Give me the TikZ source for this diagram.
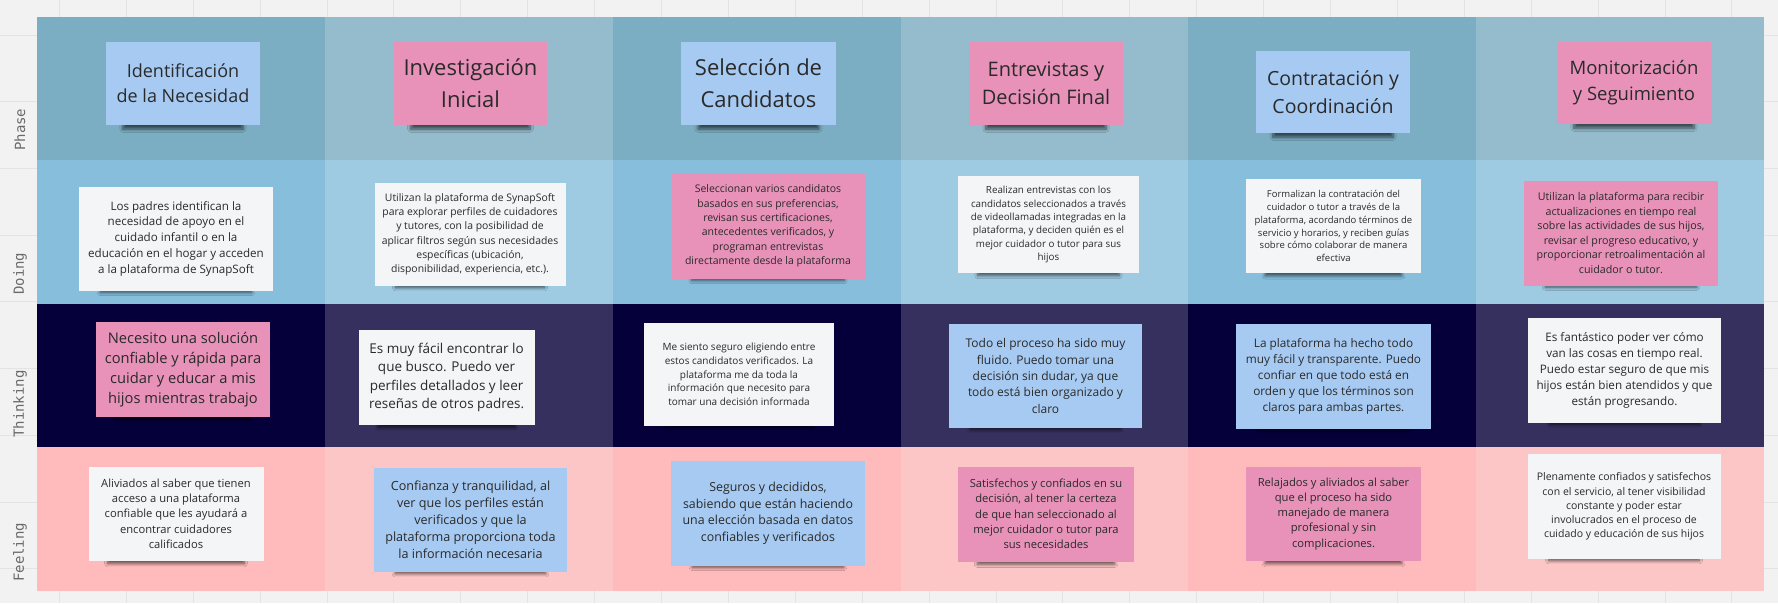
\documentclass[tikz,border=0pt]{standalone}
\usepackage{fontspec}
\setmainfont{Open Sans}
\setmonofont{DejaVu Sans Mono}
\usetikzlibrary{shadows.blur}

\definecolor{lienzo}{HTML}{F2F2F2}
\definecolor{lineagris}{HTML}{E3E3E3}
\definecolor{faseA}{HTML}{7BAEC3}
\definecolor{faseB}{HTML}{95BCCD}
\definecolor{hacerA}{HTML}{86BEDC}
\definecolor{hacerB}{HTML}{9ECAE2}
\definecolor{pensarA}{HTML}{05003A}
\definecolor{pensarB}{HTML}{35305E}
\definecolor{sentirA}{HTML}{FFBBBB}
\definecolor{sentirB}{HTML}{FDC6C6}
\definecolor{notaazul}{HTML}{A6CAF2}
\definecolor{notarosa}{HTML}{E892BA}
\definecolor{notablanca}{HTML}{F4F5F7}
\definecolor{textonota}{HTML}{2A2A2A}
\definecolor{gris}{HTML}{6A6A6A}

\newcommand{\tam}[2]{\fontsize{#1}{#2}\selectfont}

\begin{document}
\begin{tikzpicture}[x=1pt, y=-1pt]
    % Estilos
    \tikzstyle{nota}=[rectangle, inner sep=0pt, align=center, text=textonota, blur shadow={shadow xshift=0pt, shadow yshift=-17pt, shadow scale=0.78, shadow opacity=60, shadow blur radius=4pt, shadow blur steps=8}]
    \tikzstyle{azul}=[nota, fill=notaazul]
    \tikzstyle{rosa}=[nota, fill=notarosa]
    \tikzstyle{blanca}=[nota, fill=notablanca]
    \tikzstyle{etiqueta}=[rotate=90, anchor=west, inner sep=0pt, text=gris, font=\ttfamily\tam{14}{16}]
    \tikzstyle{rejilla}=[draw=lineagris, line width=0.8pt]

    % Fondo
    \fill[lienzo] (0,0) rectangle (1778,603);
    \useasboundingbox (0,0) rectangle (1778,603);
    \foreach \i in {0,...,25} \draw[rejilla] ({59.3+66.9*\i},0) -- ++(0,603);
    \foreach \j in {0,...,8} \draw[rejilla] (0,{35+66.7*\j}) -- ++(1778,0);

    % Carriles
    \foreach \ya/\yb/\oscuro/\claro in {17/160/faseA/faseB, 160/304/hacerA/hacerB, 304/447/pensarA/pensarB, 447/591/sentirA/sentirB}
      \foreach \c in {0,...,5}{
        \ifodd\c \def\col{\claro}\else \def\col{\oscuro}\fi
        \fill[fill=\col] ({37+287.83*\c},\ya) rectangle ({37+287.83*(\c+1)},\yb);
      }

    % Etiquetas
    \node (fase) [etiqueta] at (20,151) {Phase};
    \node (hacer) [etiqueta] at (20,295) {Doing};
    \node (pensar) [etiqueta] at (20,438) {Thinking};
    \node (sentir) [etiqueta] at (20,582) {Feeling};

    % Fases
    \node (f1) [azul, minimum width=154, minimum height=83, font=\tam{18}{25}] at (183,83.5) {Identificación\\de la Necesidad};
    \node (f2) [rosa, minimum width=153, minimum height=83, font=\tam{22}{32}] at (470.5,83.5) {Investigación\\Inicial};
    \node (f3) [azul, minimum width=155, minimum height=83, font=\tam{22}{32}] at (758.5,83.5) {Selección de\\Candidatos};
    \node (f4) [rosa, minimum width=154, minimum height=83, font=\tam{20}{28}] at (1046,83.5) {Entrevistas y\\Decisión Final};
    \node (f5) [azul, minimum width=154, minimum height=82, font=\tam{19.5}{28}] at (1333,92) {Contratación y\\Coordinación};
    \node (f6) [rosa, minimum width=154, minimum height=82, font=\tam{18.5}{26}] at (1634,83) {Monitorización\\y Seguimiento};

    % Doing
    \node (d1) [blanca, minimum width=194, minimum height=104, font=\tam{11.6}{15.8}] at (176,238.7) {Los padres identifican la\\necesidad de apoyo en el\\cuidado infantil o en la\\educación en el hogar y acceden\\a la plataforma de SynapSoft};
    \node (d2) [blanca, minimum width=191, minimum height=103, font=\tam{10.4}{14.2}] at (470,234.3) {Utilizan la plataforma de SynapSoft\\para explorar perfiles de cuidadores\\y tutores, con la posibilidad de\\aplicar filtros según sus necesidades\\específicas (ubicación,\\disponibilidad, experiencia, etc.).};
    \node (d3) [rosa, minimum width=195, minimum height=106, font=\tam{10.5}{14.3}] at (768,226) {Seleccionan varios candidatos\\basados en sus preferencias,\\revisan sus certificaciones,\\antecedentes verificados, y\\programan entrevistas\\directamente desde la plataforma};
    \node (d4) [blanca, minimum width=181, minimum height=97, font=\tam{9.8}{13.3}] at (1048.5,224.5) {Realizan entrevistas con los\\candidatos seleccionados a través\\de videollamadas integradas en la\\plataforma, y deciden quién es el\\mejor cuidador o tutor para sus\\hijos};
    \node (d5) [blanca, minimum width=175, minimum height=94, font=\tam{9.5}{12.9}] at (1333.5,226) {Formalizan la contratación del\\cuidador o tutor a través de la\\plataforma, acordando términos de\\servicio y horarios, y reciben guías\\sobre cómo colaborar de manera\\efectiva};
    \node (d6) [rosa, minimum width=194, minimum height=105, font=\tam{10.7}{14.5}] at (1621,233) {Utilizan la plataforma para recibir\\actualizaciones en tiempo real\\sobre las actividades de sus hijos,\\revisar el progreso educativo, y\\proporcionar retroalimentación al\\cuidador o tutor.};

    % Thinking
    \node (t1) [rosa, minimum width=174, minimum height=95, font=\tam{14.7}{20}] at (183,369.5) {Necesito una solución\\confiable y rápida para\\cuidar y educar a mis\\hijos mientras trabajo};
    \node (t2) [blanca, minimum width=176, minimum height=95, font=\tam{13.5}{18.3}] at (446.6,377.5) {Es muy fácil encontrar lo\\que busco. Puedo ver\\perfiles detallados y leer\\reseñas de otros padres.};
    \node (t3) [blanca, minimum width=190, minimum height=103, font=\tam{10}{13.7}] at (739,374.5) {Me siento seguro eligiendo entre\\estos candidatos verificados. La\\plataforma me da toda la\\información que necesito para\\tomar una decisión informada};
    \node (t4) [azul, minimum width=193, minimum height=104, font=\tam{12}{16.4}] at (1045.5,376) {Todo el proceso ha sido muy\\fluido. Puedo tomar una\\decisión sin dudar, ya que\\todo está bien organizado y\\claro};
    \node (t5) [azul, minimum width=195, minimum height=105, font=\tam{11.8}{16}] at (1333.5,376.5) {La plataforma ha hecho todo\\muy fácil y transparente. Puedo\\confiar en que todo está en\\orden y que los términos son\\claros para ambas partes.};
    \node (t6) [blanca, minimum width=193, minimum height=105, font=\tam{11.7}{15.9}] at (1624.5,370.3) {Es fantástico poder ver cómo\\van las cosas en tiempo real.\\Puedo estar seguro de que mis\\hijos están bien atendidos y que\\están progresando.};

    % Feeling
    \node (s1) [blanca, minimum width=175, minimum height=94, font=\tam{11.2}{15.2}] at (176,513.7) {Aliviados al saber que tienen\\acceso a una plataforma\\confiable que les ayudará a\\encontrar cuidadores\\calificados};
    \node (s2) [azul, minimum width=193, minimum height=104, font=\tam{12.6}{17.1}] at (470.5,520) {Confianza y tranquilidad, al\\ver que los perfiles están\\verificados y que la\\plataforma proporciona toda\\la información necesaria};
    \node (s3) [azul, minimum width=194, minimum height=105, font=\tam{12.4}{16.9}] at (768,513.3) {Seguros y decididos,\\sabiendo que están haciendo\\una elección basada en datos\\confiables y verificados};
    \node (s4) [rosa, minimum width=176, minimum height=95, font=\tam{11.2}{15.25}] at (1046,514) {Satisfechos y confiados en su\\decisión, al tener la certeza\\de que han seleccionado al\\mejor cuidador o tutor para\\sus necesidades};
    \node (s5) [rosa, minimum width=175, minimum height=94, font=\tam{11.2}{15.25}] at (1333.5,513.7) {Relajados y aliviados al saber\\que el proceso ha sido\\manejado de manera\\profesional y sin\\complicaciones.};
    \node (s6) [blanca, minimum width=193, minimum height=105, font=\tam{10.5}{14.25}] at (1624,506.5) {Plenamente confiados y satisfechos\\con el servicio, al tener visibilidad\\constante y poder estar\\involucrados en el proceso de\\cuidado y educación de sus hijos};

\end{tikzpicture}
\end{document}
